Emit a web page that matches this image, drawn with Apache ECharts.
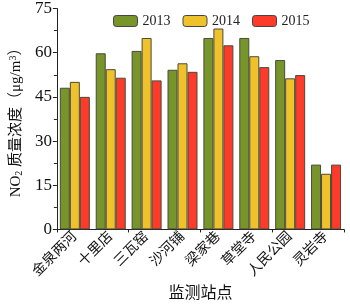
<!DOCTYPE html>
<html>
<head>
<meta charset="utf-8">
<script src="https://cdn.jsdelivr.net/npm/echarts@6/dist/echarts.min.js"></script>
<style>
  html, body { margin: 0; padding: 0; background: #fff; }
  #chart { width: 350px; height: 307px; }
</style>
</head>
<body>
<div id="chart"></div>
<script>
const stations = ["金泉两河", "十里店", "三瓦窑", "沙河铺", "梁家巷", "草堂寺", "人民公园", "灵岩寺"];
const years = ["2013", "2014", "2015"];
const values2013 = [48.1, 59.8, 60.6, 54.2, 65.0, 65.0, 57.5, 22.0];
const values2014 = [50.1, 54.4, 65.0, 56.4, 68.2, 58.8, 51.3, 18.9];
const values2015 = [45.0, 51.5, 50.6, 53.5, 62.5, 55.1, 52.4, 22.0];
const yTicks = [0, 15, 30, 45, 60, 75];

const font = "'Liberation Serif', 'Noto Sans CJK SC', serif";
const colors = ["#77952b", "#efc22c", "#fd3b2a"];

const chart = echarts.init(document.getElementById("chart"));
chart.setOption({
  animation: false,
  backgroundColor: "#fff",
  textStyle: { fontFamily: font, color: "#111" },
  legend: {
    top: 9,
    left: 108,
    itemWidth: 24,
    itemHeight: 11,
    itemGap: 12,
    data: years,
    textStyle: { fontFamily: font, fontSize: 14, color: "#222" },
    itemStyle: { borderColor: "#444", borderWidth: 1 },
  },
  grid: { left: 47, right: 6, top: 7, bottom: 59, containLabel: false },
  xAxis: [
    {
      type: "category",
      data: stations,
      name: "监测站点",
      nameLocation: "middle",
      nameGap: 47,
      nameTextStyle: { fontFamily: font, fontSize: 16, color: "#111" },
      axisLine: { lineStyle: { color: "#222", width: 1 } },
      axisTick: { inside: true, alignWithLabel: true, length: 3, lineStyle: { color: "#222" } },
      axisLabel: { rotate: 45, fontFamily: font, fontSize: 14, color: "#111", margin: 5 },
    },
    {
      type: "category",
      data: stations,
      position: "bottom",
      axisLine: { show: false },
      axisTick: { show: true, length: 3, lineStyle: { color: "#222" } },
      axisLabel: { show: false },
    },
  ],
  yAxis: {
    type: "value",
    min: 0,
    max: yTicks[yTicks.length - 1],
    interval: 15,
    name: "{a|NO}{sub|2}{a| 质量浓度（μg/m}{sup|3}{a|）}",
    nameLocation: "middle",
    nameGap: 31,
    nameTextStyle: {
      rich: {
        a: { fontFamily: font, fontSize: 15, color: "#111" },
        sub: { fontFamily: font, fontSize: 10, color: "#111", verticalAlign: "bottom", padding: [6, 0, 0, 0] },
        sup: { fontFamily: font, fontSize: 10, color: "#111", verticalAlign: "top", padding: [0, 0, 6, 0] },
      },
    },
    axisLine: { show: true, lineStyle: { color: "#222", width: 1 } },
    axisTick: { show: true, length: 4, lineStyle: { color: "#222" } },
    minorTick: { show: true, splitNumber: 2, length: 3, lineStyle: { color: "#222" } },
    splitLine: { show: false },
    axisLabel: { fontFamily: font, fontSize: 17, color: "#111", margin: 5 },
  },
  series: [values2013, values2014, values2015].map((vals, i) => ({
    name: years[i],
    type: "bar",
    data: vals,
    barWidth: 10,
    barGap: "0%",
    itemStyle: { color: colors[i], borderColor: "#4a4a3a", borderWidth: 1 },
  })),
});
</script>
</body>
</html>
